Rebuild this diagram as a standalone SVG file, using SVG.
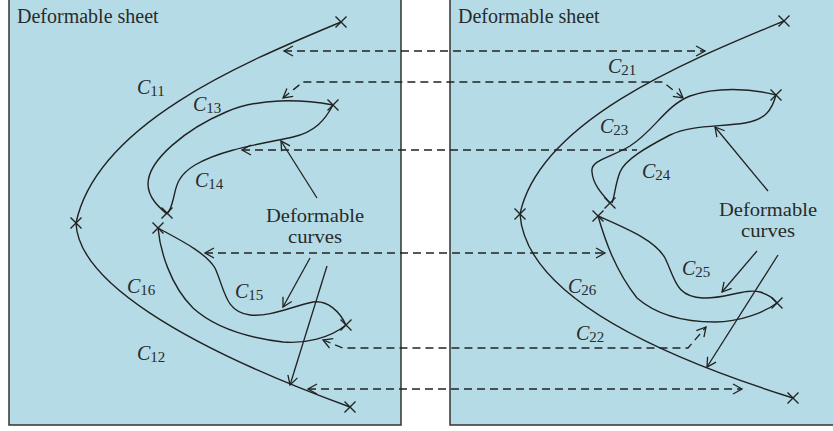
<svg xmlns="http://www.w3.org/2000/svg" width="833" height="431" viewBox="0 0 833 431">
<style>
.panel{fill:#b5dce6;stroke:#333;stroke-width:1.5}
.crv{fill:none;stroke:#222;stroke-width:1.4}
.dash{fill:none;stroke:#222;stroke-width:1.3;stroke-dasharray:8 5;marker-end:url(#ah);marker-start:url(#ah)}
.ptr{fill:none;stroke:#222;stroke-width:1.3;marker-end:url(#ah)}
.xm{fill:none;stroke:#222;stroke-width:1.4}
text{font-family:"Liberation Serif","Times New Roman",serif;fill:#2a2a2a}
.t{font-size:20px}
.d{font-size:19px}
.c{font-size:20px;font-style:italic}
.s{font-size:15px;font-style:normal}
</style>
<defs>
<marker id="ah" markerUnits="userSpaceOnUse" markerWidth="14" markerHeight="14" viewBox="-12 -7 14 14" refX="0" refY="0" orient="auto-start-reverse">
<path d="M-9,-5 L0,0 L-9,5" fill="none" stroke="#222" stroke-width="1.3"/>
</marker>
<path id="x" d="M-5.5,-5.5 L5.5,5.5 M-5.5,5.5 L5.5,-5.5" class="xm"/>
</defs>

<g id="panels">
<rect id="sheet1" class="panel" x="9" y="-2" width="392" height="427"/>
<rect id="sheet2" class="panel" x="450" y="-2" width="390" height="427"/>
<text class="t" x="17" y="23">Deformable sheet</text>
<text class="t" x="458" y="23">Deformable sheet</text>
</g>

<g id="left-curves">
<g id="C11"><path class="crv" d="M341,22 C250,60 97,122 76,223"/><text class="c" x="137" y="94">C<tspan class="s" dy="2">11</tspan></text></g>
<g id="C12"><path class="crv" d="M76,223 C78,280 180,345 350,407"/><text class="c" x="137" y="360">C<tspan class="s" dy="2">12</tspan></text></g>
<g id="C13"><path class="crv" d="M333,105 C300,99 258,98 226,112 C186,129 148,160 148,184 C148,198 160,208 167,214"/><text class="c" x="193" y="111">C<tspan class="s" dy="2">13</tspan></text></g>
<g id="C14"><path class="crv" d="M333,105 C325,120 315,132 293,137 C260,144 220,150 195,165 C175,177 176,190 173,200 C171,208 169,212 167,214"/><text class="c" x="195" y="187">C<tspan class="s" dy="2">14</tspan></text></g>
<g id="C15"><path class="crv" d="M158,228 C180,240 205,252 215,268 C225,290 225,312 250,315 C270,317 290,307 313,302 C328,300 340,312 346,325"/><text class="c" x="235" y="298">C<tspan class="s" dy="2">15</tspan></text></g>
<g id="C16"><path class="crv" d="M158,228 C160,250 170,285 193,308 C215,328 250,338 283,342 C305,344 330,338 346,325"/><text class="c" x="127" y="293">C<tspan class="s" dy="2">16</tspan></text></g>
<g id="label-left"><text class="d" x="315" y="222" text-anchor="middle" textLength="98" lengthAdjust="spacingAndGlyphs">Deformable</text><text class="d" x="315" y="243" text-anchor="middle" textLength="54" lengthAdjust="spacingAndGlyphs">curves</text></g>
</g>

<g id="right-curves">
<g id="C21"><path class="crv" d="M784,21 C690,60 540,120 520,214"/><text class="c" x="608" y="73">C<tspan class="s" dy="2">21</tspan></text></g>
<g id="C22"><path class="crv" d="M520,214 C525,290 640,350 793,398"/><text class="c" x="576" y="340">C<tspan class="s" dy="2">22</tspan></text></g>
<g id="C23"><path class="crv" d="M776,95 C750,88 715,87 690,96 C665,106 655,130 630,146 C610,158 590,160 592,172 C593,185 603,195 610,203"/><text class="c" x="600" y="133">C<tspan class="s" dy="2">23</tspan></text></g>
<g id="C24"><path class="crv" d="M776,95 C772,110 765,120 745,123 C720,127 690,125 670,135 C645,148 625,160 620,172 C615,185 615,195 612,203"/><text class="c" x="642" y="178">C<tspan class="s" dy="2">24</tspan></text></g>
<g id="C25"><path class="crv" d="M598,216 C625,228 655,240 665,258 C675,278 675,297 703,298 C725,299 745,288 760,292 C770,295 775,300 777,303"/><text class="c" x="682" y="275">C<tspan class="s" dy="2">25</tspan></text></g>
<g id="C26"><path class="crv" d="M598,216 C605,240 615,270 637,298 C660,318 690,322 715,322 C740,322 765,312 777,303"/><text class="c" x="568" y="293">C<tspan class="s" dy="2">26</tspan></text></g>
<g id="label-right"><text class="d" x="768" y="216" text-anchor="middle" textLength="98" lengthAdjust="spacingAndGlyphs">Deformable</text><text class="d" x="768" y="237" text-anchor="middle" textLength="54" lengthAdjust="spacingAndGlyphs">curves</text></g>
</g>

<g id="marks">
<use href="#x" x="341" y="22"/><use href="#x" x="76" y="223"/><use href="#x" x="350" y="407"/>
<use href="#x" x="333" y="105"/><use href="#x" x="167" y="213"/><use href="#x" x="158" y="228"/><use href="#x" x="346" y="325"/>
<use href="#x" x="784" y="21"/><use href="#x" x="520" y="214"/><use href="#x" x="793" y="398"/>
<use href="#x" x="776" y="95"/><use href="#x" x="610" y="203"/><use href="#x" x="598" y="216"/><use href="#x" x="777" y="303"/>
</g>

<g id="connectors">
<path class="dash" d="M284,51 L705,51"/>
<path class="dash" d="M283,98 L303,82 L663,82 L683,98"/>
<path class="dash" d="M242,150 L637,150" style="marker-end:none"/>
<path class="dash" d="M205,253 L605,253"/>
<path class="dash" d="M323,340 L343,348 L688,348 L706,327"/>
<path class="dash" d="M308,389 L742,389"/>
<path class="ptr" d="M317,198 L281,141"/>
<path class="ptr" d="M310,258 L283,307"/>
<path class="ptr" d="M327,266 L290,385"/>
<path class="ptr" d="M768,191 L715,127"/>
<path class="ptr" d="M757,251 L722,292"/>
<path class="ptr" d="M778,255 L707,367"/>
</g>
</svg>
